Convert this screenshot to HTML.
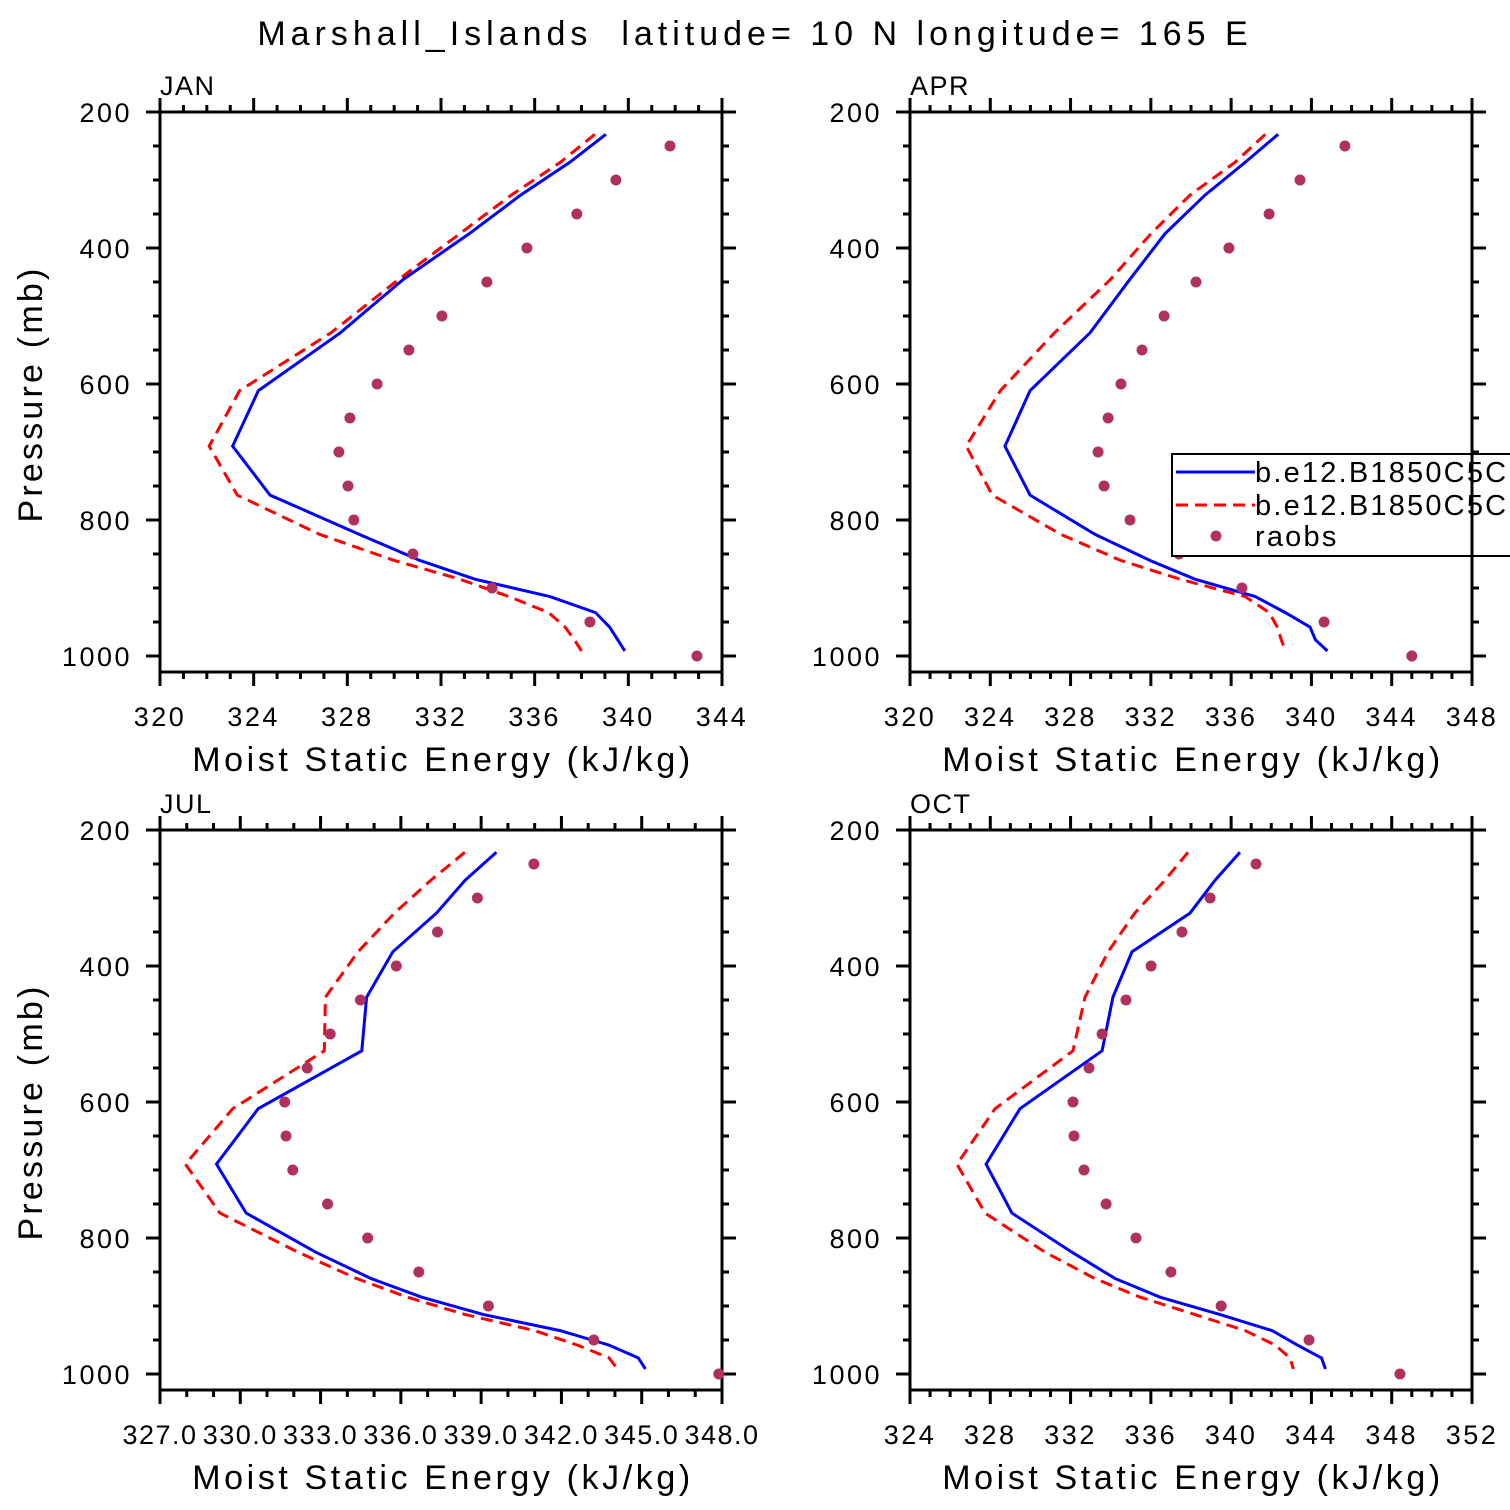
<!DOCTYPE html>
<html><head><meta charset="utf-8">
<style>
html,body{margin:0;padding:0;background:#fff;overflow:hidden;width:1510px;height:1510px}
svg text{font-family:"Liberation Sans",sans-serif;fill:#000}
</style></head>
<body>
<svg id="fig" width="1510" height="1510" viewBox="0 0 1510 1510" xmlns="http://www.w3.org/2000/svg">
<text x="755" y="45" text-anchor="middle" font-size="34" letter-spacing="5" xml:space="preserve">Marshall_Islands  latitude= 10 N longitude= 165 E</text>
</svg>
<script>
const modelLevels=[232.8,273.9,322.2,379.1,445.9,524.7,609.8,691.4,763.4,820.9,859.5,887.0,912.6,936.2,957.5,976.3,992.6];
const obsLevels=[250,300,350,400,450,500,550,600,650,700,750,800,850,900,950,1000];
const pTicks=[200,400,600,800,1000];
const janBlue=[339.04,337.5,335.4,333.2,330.4,327.7,324.2,323.1,324.7,328.5,331.1,333.45,336.65,338.6,339.2,339.55,339.85];
const janRed=[338.57,337.1,335.0,332.8,330.2,327.3,323.4,322.1,323.3,326.8,330.0,332.8,334.9,336.6,337.3,337.7,338.0];
const janObs=[341.78,339.47,337.8,335.67,333.96,332.04,330.63,329.27,328.11,327.64,328.03,328.28,330.8,334.18,338.36,342.93];
const aprBlue=[338.34,336.7,334.7,332.7,330.96,328.97,325.98,324.73,325.98,329.2,331.96,334.2,337.2,338.7,339.93,340.2,340.8];
const aprRed=[337.7,336.2,333.95,332.0,330.0,327.2,324.5,322.8,324.1,327.5,330.5,333.45,336.7,337.9,338.3,338.5,338.7];
const aprObs=[341.67,339.43,337.89,335.89,334.25,332.66,331.56,330.51,329.87,329.37,329.67,330.96,333.4,336.54,340.63,345.0];
const julBlue=[339.57,338.4,337.33,335.70,334.72,334.54,330.67,329.11,330.22,332.82,334.88,336.78,339.09,341.95,343.78,344.87,345.14];
const julRed=[338.39,337.12,335.76,334.40,333.18,333.14,329.72,327.95,329.24,332.16,334.34,336.24,338.41,341.0,342.6,343.78,344.09];
const julObs=[340.97,338.86,337.37,335.83,334.49,333.36,332.50,331.66,331.71,331.96,333.26,334.76,336.67,339.27,343.21,347.88];
const octBlue=[340.44,339.2,337.95,335.06,334.11,333.57,329.48,327.79,329.08,332.07,334.21,336.46,339.45,342.04,343.3,344.5,344.7];
const octRed=[337.85,336.7,335.2,333.87,332.72,332.12,328.24,326.34,327.74,330.73,333.2,335.46,338.2,340.7,342.2,342.93,343.1];
const octObs=[341.24,338.95,337.55,336.01,334.76,333.57,332.92,332.12,332.17,332.67,333.77,335.26,337.0,339.5,343.88,348.41];
const janXTicks=[320,324,328,332,336,340,344];
const aprXTicks=[320,324,328,332,336,340,344,348];
const julXTicks=[327,330,333,336,339,342,345,348];
const octXTicks=[324,328,332,336,340,344,348,352];

const NS="http://www.w3.org/2000/svg";
const svg=document.getElementById('fig');
function mk(tag,attrs,parent){const e=document.createElementNS(NS,tag);for(const k in attrs)e.setAttribute(k,attrs[k]);(parent||svg).appendChild(e);return e;}

function panel(key,label,x0,y0,xmin,xmax,xticks,minorStep,dec,blue,red,obs,yTitle){
  const W=562,H=560;
  const g=mk('g',{});
  
  
  const xs=v=>x0+(v-xmin)/(xmax-xmin)*W;
  const ys=p=>y0+(p-200)*0.68;
  const fr=mk('rect',{x:x0,y:y0,width:W,height:H,fill:'none',stroke:'#000','stroke-width':3},g);
  
  
  let d='';
  for(let v=xmin;v<=xmax+1e-6;v+=minorStep){
    const x=xs(v);const major=xticks.some(t=>Math.abs(t-v)<1e-6);const L=major?14:7;
    d+=`M${x},${y0}V${y0-L}M${x},${y0+H}V${y0+H+L}`;
  }
  for(let p=200;p<=1000;p+=50){
    const y=ys(p);const L=(p%200===0)?14:7;
    d+=`M${x0},${y}H${x0-L}M${x0+W},${y}H${x0+W+L}`;
  }
  const tk=mk('path',{d:d,stroke:'#000','stroke-width':3,fill:'none'},g);
  
  
  xticks.forEach(v=>{
    const t=mk('text',{x:xs(v),y:y0+H+54,'text-anchor':'middle','font-size':27,'letter-spacing':dec?1.5:2.5},g);
    t.textContent=v.toFixed(dec);
    
    
  });
  pTicks.forEach(p=>{
    const t=mk('text',{x:x0-28,y:ys(p)+10,'text-anchor':'end','font-size':27,'letter-spacing':2.5},g);
    t.textContent=p;
    
    
  });
  const lb=mk('text',{x:x0,y:y0-17,'font-size':27,'letter-spacing':1.5},g);
  lb.textContent=label;
  
  
  const xt=mk('text',{x:x0+W/2+2,y:y0+H+99,'text-anchor':'middle','font-size':34,'letter-spacing':3.6},g);
  xt.textContent='Moist Static Energy (kJ/kg)';
  
  
  if(yTitle){
    const yt=mk('text',{x:0,y:0,'text-anchor':'middle','font-size':34,'letter-spacing':3.2,transform:`translate(42,${y0+282}) rotate(-90)`},g);
    yt.textContent='Pressure (mb)';
    
    
  }
  const bl=mk('polyline',{points:blue.map((v,i)=>xs(v)+','+ys(modelLevels[i])).join(' '),fill:'none',stroke:'#0000ff','stroke-width':3},g);
  
  
  const rd=mk('polyline',{points:red.map((v,i)=>xs(v)+','+ys(modelLevels[i])).join(' '),fill:'none',stroke:'#ff0000','stroke-width':3,'stroke-dasharray':'12,7'},g);
  
  
  obs.forEach((v,i)=>{
    const c=mk('circle',{cx:xs(v),cy:ys(obsLevels[i]),r:5.5,fill:'#b03060'},g);
    
    
  });
}
panel('jan','JAN',160,112,320,344,janXTicks,1,0,janBlue,janRed,janObs,true);
panel('apr','APR',910,112,320,348,aprXTicks,1,0,aprBlue,aprRed,aprObs,false);
panel('jul','JUL',160,830,327,348,julXTicks,1,1,julBlue,julRed,julObs,true);
panel('oct','OCT',910,830,324,352,octXTicks,1,0,octBlue,octRed,octObs,false);

const lg=mk('g',{});


const lr=mk('rect',{x:1172,y:454,width:360,height:102,fill:'#fff',stroke:'#000','stroke-width':2},lg);


const l1=mk('line',{x1:1176,y1:472,x2:1255,y2:472,stroke:'#0000ff','stroke-width':3},lg);


const t1=mk('text',{x:1255,y:482,'font-size':29,'letter-spacing':2.2},lg);
t1.textContent='b.e12.B1850C5CN';


const l2=mk('line',{x1:1176,y1:505,x2:1255,y2:505,stroke:'#ff0000','stroke-width':3,'stroke-dasharray':'12,7'},lg);


const t2=mk('text',{x:1255,y:515,'font-size':29,'letter-spacing':2.2},lg);
t2.textContent='b.e12.B1850C5CN';


const c3=mk('circle',{cx:1216,cy:536,r:5.5,fill:'#b03060'},lg);


const t3=mk('text',{x:1255,y:546,'font-size':29,'letter-spacing':2.2},lg);
t3.textContent='raobs';


const ov=mk('line',{x1:1472,y1:440,x2:1472,y2:570,stroke:'#000','stroke-width':3});


</script>
</body></html>
